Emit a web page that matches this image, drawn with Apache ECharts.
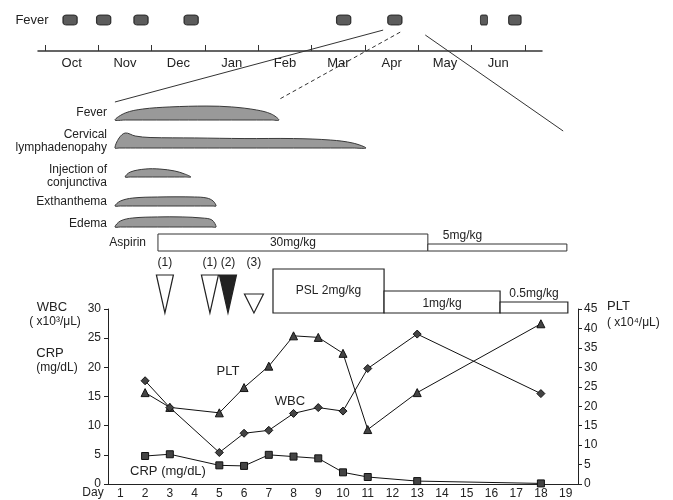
<!DOCTYPE html>
<html>
<head>
<meta charset="utf-8">
<script src="https://cdn.jsdelivr.net/npm/echarts@6/dist/echarts.min.js"></script>
<style>
html, body { margin: 0; padding: 0; background: #fff; }
#main { width: 673px; height: 500px; }
</style>
</head>
<body>
<div id="main"></div>
<script>
// ---- top timeline: fever episodes by month ----
var months = ['Oct', 'Nov', 'Dec', 'Jan', 'Feb', 'Mar', 'Apr', 'May', 'Jun'];
var feverEpisodeMonth = [0.47, 1.1, 1.8, 2.74, 5.6, 6.56, 8.23, 8.81]; // months after 1 Oct
var feverEpisodeDays = [8, 8, 8, 8, 8, 8, 4, 7];

// ---- clinical course (day axis) ----
var symptomNames = ['Fever', 'Cervical\nlymphadenopahy', 'Injection of\nconjunctiva', 'Exthanthema', 'Edema'];
var symptomDays = [
    [0.78, 1.2, 1.9, 3, 4.5, 5.5, 6.5, 7.1, 7.41],
    [0.78, 0.95, 1.2, 1.6, 2.2, 4, 6, 8, 9.5, 10.4, 10.93],
    [1.19, 1.4, 2, 2.6, 3.2, 3.6, 3.85],
    [0.78, 1.0, 1.5, 2.5, 4, 4.5, 4.75, 4.87],
    [0.78, 1.0, 1.5, 2.5, 3.5, 4.3, 4.7, 4.87]
];
var symptomLevels = [
    [0, 0.47, 0.73, 0.87, 0.93, 0.87, 0.67, 0.4, 0],
    [0, 0.67, 1.0, 0.8, 0.7, 0.67, 0.63, 0.63, 0.53, 0.33, 0],
    [0, 0.33, 0.53, 0.53, 0.4, 0.2, 0],
    [0, 0.33, 0.53, 0.6, 0.6, 0.53, 0.33, 0],
    [0, 0.4, 0.6, 0.67, 0.67, 0.6, 0.47, 0]
];

var aspirinStart = [2.52, 13.43];
var aspirinEnd = [13.43, 19.05];
var aspirinDose = ['30mg/kg', '5mg/kg'];

var triangleDay = [2.8, 4.62, 5.35, 6.4];
var triangleLabel = ['(1)', '(1)', '(2)', '(3)'];
var triangleFilled = [false, false, true, false];
var triangleSize = [1, 1, 1, 0.5];

var pslStart = [7.17, 11.66, 16.35];
var pslEnd = [11.66, 16.35, 19.09];
var pslDose = [2, 1, 0.5];
var pslLabel = ['PSL 2mg/kg', '1mg/kg', '0.5mg/kg'];

// ---- laboratory data ----
var dayTicks = ['1', '2', '3', '4', '5', '6', '7', '8', '9', '10', '11', '12', '13', '14', '15', '16', '17', '18', '19'];
var labDays = ['2', '3', '5', '6', '7', '8', '9', '10', '11', '13', '18'];
var wbc = [17.7, 13.1, 5.4, 8.7, 9.2, 12.1, 13.1, 12.5, 19.8, 25.7, 15.5];
var crp = [4.8, 5.1, 3.2, 3.1, 5.0, 4.7, 4.4, 2.0, 1.2, 0.5, 0.1];
var plt = [23.5, 19.7, 18.3, 24.8, 30.3, 38.1, 37.7, 33.6, 14.0, 23.5, 41.2];

// layout of the middle panel (offsets in px from its top)
var rowBase = [20, 48, 77, 106, 127];
var rowLabelY = [13, 41.5, 76, 102, 124];
var ROW_H = 15;
var ASPIRIN_BASE = 151;
var aspirinHeight = [17, 7];
var TRI_BASE = 213, TRI_H = 38, TRI_W = 18, TRI_LABEL_Y = 163;
var PSL_BASE = 213, PSL_UNIT = 22;

var FONT = '"Liberation Sans", Arial, sans-serif';
var INK = '#222';

function pairs(xs, ys) {
    return xs.map(function (x, i) { return [x, ys[i]]; });
}

function renderSymptom(params, api) {
    var i = params.dataIndex;
    var days = symptomDays[i], lv = symptomLevels[i];
    var base = api.coord([1, rowBase[i]])[1];
    var pts = [];
    for (var k = 0; k < days.length; k++) {
        pts.push([api.coord([days[k], 0])[0], base - lv[k] * ROW_H]);
    }
    for (k = days.length - 2; k > 0; k--) {
        pts.push([api.coord([days[k], 0])[0], base]);
    }
    return {
        type: 'group',
        children: [
            { type: 'polygon', shape: { points: pts, smooth: 0.35 },
              style: { fill: '#999', stroke: '#3a3a3a', lineWidth: 1 } },
            { type: 'text', x: params.coordSys.x - 1, y: api.coord([1, rowLabelY[i]])[1],
              style: { text: symptomNames[i], align: 'right', verticalAlign: 'middle',
                       font: '12px ' + FONT, fill: INK, lineHeight: 13 } }
        ]
    };
}

function renderAspirin(params, api) {
    var i = params.dataIndex;
    var p0 = api.coord([aspirinStart[i], ASPIRIN_BASE]);
    var p1 = api.coord([aspirinEnd[i], ASPIRIN_BASE]);
    var h = aspirinHeight[i];
    var children = [
        { type: 'rect', shape: { x: p0[0], y: p0[1] - h, width: p1[0] - p0[0], height: h },
          style: { fill: '#fff', stroke: '#333', lineWidth: 1 } }
    ];
    if (h > 12) {
        children.push({ type: 'text', x: (p0[0] + p1[0]) / 2, y: p0[1] - h / 2,
            style: { text: aspirinDose[i], align: 'center', verticalAlign: 'middle', font: '12px ' + FONT, fill: INK } });
    } else {
        children.push({ type: 'text', x: p0[0] + 15, y: p0[1] - h - 8,
            style: { text: aspirinDose[i], align: 'left', verticalAlign: 'middle', font: '12px ' + FONT, fill: INK } });
    }
    if (i === 0) {
        children.push({ type: 'text', x: p0[0] - 12, y: p0[1] - h / 2,
            style: { text: 'Aspirin', align: 'right', verticalAlign: 'middle', font: '12px ' + FONT, fill: INK } });
    }
    return { type: 'group', children: children };
}

function renderTriangle(params, api) {
    var i = params.dataIndex;
    var apex = api.coord([triangleDay[i], TRI_BASE]);
    var h = TRI_H * triangleSize[i];
    var w = triangleSize[i] < 1 ? TRI_W + 1 : TRI_W - 1;
    var lab = api.coord([triangleDay[i], TRI_LABEL_Y]);
    return {
        type: 'group',
        children: [
            { type: 'polygon', shape: { points: [[apex[0] - w / 2, apex[1] - h], [apex[0] + w / 2, apex[1] - h], [apex[0], apex[1]]] },
              style: { fill: triangleFilled[i] ? '#222' : '#fff', stroke: '#222', lineWidth: 1.2 } },
            { type: 'text', x: lab[0], y: lab[1],
              style: { text: triangleLabel[i], align: 'center', verticalAlign: 'middle', font: '12px ' + FONT, fill: INK } }
        ]
    };
}

function renderPsl(params, api) {
    var i = params.dataIndex;
    var p0 = api.coord([pslStart[i], PSL_BASE]);
    var p1 = api.coord([pslEnd[i], PSL_BASE]);
    var h = pslDose[i] * PSL_UNIT;
    var inside = h > 15;
    return {
        type: 'group',
        children: [
            { type: 'rect', shape: { x: p0[0], y: p0[1] - h, width: p1[0] - p0[0], height: h },
              style: { fill: '#fff', stroke: '#222', lineWidth: 1.2 } },
            { type: 'text', x: (p0[0] + p1[0]) / 2, y: inside ? p0[1] - h / 2 + (i > 0 ? 2 : 0) : p0[1] - h - 8,
              style: { text: pslLabel[i], align: 'center', verticalAlign: 'middle', font: '12px ' + FONT, fill: INK } }
        ]
    };
}

var chart = echarts.init(document.getElementById('main'));

var labSymbol = { color: '#444', borderColor: '#111', borderWidth: 1 };
var labLine = { color: '#111', width: 1 };

var option = {
    animation: false,
    backgroundColor: '#fff',
    textStyle: { fontFamily: FONT },
    grid: [
        { left: 38, width: 504, top: 10, height: 41 },
        { left: 45, width: 480, top: 10, height: 41 },
        { left: 108, width: 470, top: 100, height: 215 },
        { left: 108, width: 470, top: 309, height: 175 }
    ],
    xAxis: [
        { gridIndex: 0, type: 'value', min: 0, max: 1,
          axisLine: { show: true, lineStyle: { color: '#333', width: 1.5 } },
          axisTick: { show: false }, axisLabel: { show: false }, splitLine: { show: false } },
        { gridIndex: 1, type: 'category', data: months, boundaryGap: true,
          axisLine: { show: false },
          axisTick: { show: true, inside: true, length: 6, lineStyle: { color: '#333' } },
          axisLabel: { color: INK, fontSize: 13, margin: 6 } },
        { gridIndex: 1, type: 'value', min: 0, max: 9, show: false },
        { gridIndex: 2, type: 'value', min: 0.5, max: 19.5, show: false },
        { gridIndex: 3, type: 'category', data: dayTicks, boundaryGap: true,
          axisLine: { show: true, lineStyle: { color: '#222', width: 1.2 } },
          axisTick: { show: false },
          axisLabel: { color: INK, fontSize: 12, margin: 4 } }
    ],
    yAxis: [
        { gridIndex: 0, type: 'value', min: 0, max: 1, show: false },
        { gridIndex: 1, type: 'value', min: 0, max: 1, show: false },
        { gridIndex: 2, type: 'value', min: 0, max: 215, inverse: true, show: false },
        { gridIndex: 3, type: 'value', min: 0, max: 30, interval: 5,
          axisLine: { show: true, lineStyle: { color: '#222' } },
          axisTick: { show: true, length: 4, lineStyle: { color: '#222' } },
          axisLabel: { color: INK, fontSize: 12, margin: 7 },
          splitLine: { show: false } },
        { gridIndex: 3, type: 'value', min: 0, max: 45, interval: 5, position: 'right',
          axisLine: { show: true, lineStyle: { color: '#222' } },
          axisTick: { show: true, length: 4, lineStyle: { color: '#222' } },
          axisLabel: { color: INK, fontSize: 12, margin: 6 },
          splitLine: { show: false } }
    ],
    series: [
        { name: 'fever episodes', type: 'scatter', xAxisIndex: 2, yAxisIndex: 1,
          data: feverEpisodeMonth.map(function (m) { return [m, 0.756]; }),
          symbol: 'roundRect',
          symbolSize: function (v, p) { return [feverEpisodeDays[p.dataIndex] * 53.3 / 30, 10]; },
          itemStyle: { color: '#333', borderColor: '#111', borderWidth: 1 } },
        { type: 'custom', xAxisIndex: 3, yAxisIndex: 2, renderItem: renderSymptom,
          data: symptomNames.map(function (n, i) { return [i]; }) },
        { type: 'custom', xAxisIndex: 3, yAxisIndex: 2, renderItem: renderAspirin,
          data: aspirinDose.map(function (n, i) { return [aspirinStart[i], aspirinEnd[i]]; }) },
        { type: 'custom', xAxisIndex: 3, yAxisIndex: 2, renderItem: renderTriangle,
          data: triangleDay.map(function (d) { return [d]; }) },
        { type: 'custom', xAxisIndex: 3, yAxisIndex: 2, renderItem: renderPsl,
          data: pslDose.map(function (d, i) { return [pslStart[i], pslEnd[i]]; }) },
        { name: 'PLT', type: 'line', xAxisIndex: 4, yAxisIndex: 4, data: pairs(labDays, plt),
          symbol: 'triangle', symbolSize: 8, itemStyle: labSymbol, lineStyle: labLine },
        { name: 'WBC', type: 'line', xAxisIndex: 4, yAxisIndex: 3, data: pairs(labDays, wbc),
          symbol: 'diamond', symbolSize: 8, itemStyle: labSymbol, lineStyle: labLine },
        { name: 'CRP', type: 'line', xAxisIndex: 4, yAxisIndex: 3, data: pairs(labDays, crp),
          symbol: 'rect', symbolSize: 7, itemStyle: labSymbol, lineStyle: labLine }
    ]
};
chart.setOption(option);

// lines linking the April episode to the expanded day course
var zoomLinks = [
    { month: [6.34, 0.51], day: [0.78, 2], dashed: false },
    { month: [6.66, 0.46], day: [7.37, 0], dashed: true },
    { month: [7.13, 0.39], day: [18.9, 31], dashed: false }
];
var graphics = zoomLinks.map(function (z) {
    var a = chart.convertToPixel({ xAxisIndex: 2, yAxisIndex: 1 }, z.month);
    var b = chart.convertToPixel({ xAxisIndex: 3, yAxisIndex: 2 }, z.day);
    return { type: 'line', shape: { x1: a[0], y1: a[1], x2: b[0], y2: b[1] },
             style: { stroke: '#333', lineWidth: 1, lineDash: z.dashed ? [4, 3] : null }, z: 5 };
});
function label(text, x, y, align, size) {
    return { type: 'text', x: x, y: y, z: 6,
             style: { text: text, align: align || 'center', verticalAlign: 'middle',
                      font: (size || 13) + 'px ' + FONT, fill: INK } };
}
graphics.push(
    label('Fever', 32, 20),
    label('WBC', 52, 307),
    label('( x10³/μL)', 55, 322, 'center', 12),
    label('CRP', 50, 353),
    label('(mg/dL)', 57, 368, 'center', 12),
    label('PLT', 607, 306, 'left'),
    label('( x10⁴/μL)', 607, 323, 'left', 12),
    label('PLT', 228, 371),
    label('WBC', 290, 401),
    label('CRP (mg/dL)', 168, 471),
    label('Day', 93, 493, 'center', 12)
);
chart.setOption({ graphic: graphics });
</script>
</body>
</html>
